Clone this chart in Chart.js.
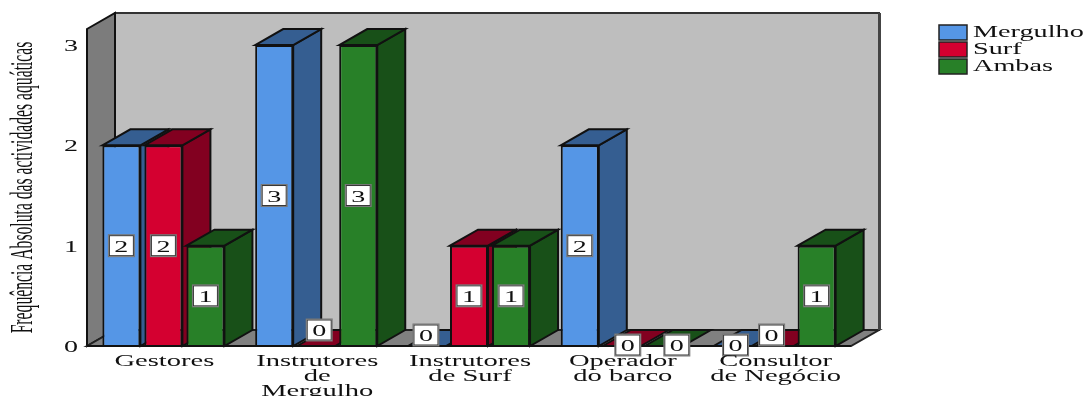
<!DOCTYPE html>
<html>
<head>
<meta charset="utf-8">
<script src="https://cdn.jsdelivr.net/npm/chart.js@4/dist/chart.umd.min.js"></script>
<style>
html, body { margin: 0; background: #fff; overflow: hidden; }
canvas { display: block; filter: blur(0.5px); }
</style>
</head>
<body>
<canvas id="myChart" width="1083" height="396"></canvas>
<script>
var categories = [['Gestores'], ['Instrutores', 'de', 'Mergulho'], ['Instrutores', 'de Surf'], ['Operador', 'do barco'], ['Consultor', 'de Negócio']];
var mergulho = [2, 3, 0, 2, 0];
var surf = [2, 0, 1, 0, 0];
var ambas = [1, 3, 1, 0, 1];
var yTicks = [0, 1, 2, 3];
var yTitle = 'Frequência Absoluta das actividades aquáticas';

var DEPTH_X = 28, DEPTH_Y = 16;
var SERIF = '"Liberation Serif", serif';
var sideColors = ['#355e91', '#820020', '#185018'];
// the zero labels get pushed around the other marks in the original
var zeroNudge = { '1,1': [3, -16], '0,2': [-1, -11], '1,3': [6, -1], '2,3': [13, -1], '0,4': [3, -1], '1,4': [-3, -11] };

function stretchedText(ctx, text, x, y, size, sx, align) {
    ctx.save();
    ctx.translate(x, y);
    ctx.scale(sx, 1);
    ctx.font = size + 'px ' + SERIF;
    ctx.fillStyle = '#111';
    ctx.textAlign = align || 'center';
    ctx.textBaseline = 'alphabetic';
    ctx.fillText(text, 0, 0);
    ctx.restore();
}

function poly(ctx, pts, fill, stroke, lw) {
    ctx.beginPath();
    pts.forEach(function (p, i) {
        if (i === 0) ctx.moveTo(p[0], p[1]); else ctx.lineTo(p[0], p[1]);
    });
    ctx.closePath();
    ctx.fillStyle = fill;
    ctx.fill();
    if (stroke) {
        ctx.strokeStyle = stroke;
        ctx.lineWidth = lw || 2;
        ctx.stroke();
    }
}

function drawWalls(ctx, a) {
    var l = a.left, r = a.right, t = a.top, b = a.bottom;
    poly(ctx, [[l + DEPTH_X, t - DEPTH_Y], [r + DEPTH_X, t - DEPTH_Y], [r + DEPTH_X, b - DEPTH_Y], [l + DEPTH_X, b - DEPTH_Y]], '#bebebe', '#333', 2);
    poly(ctx, [[l, t], [l + DEPTH_X, t - DEPTH_Y], [l + DEPTH_X, b - DEPTH_Y], [l, b]], '#7c7c7c', '#111', 2);
    poly(ctx, [[l, b], [l + DEPTH_X, b - DEPTH_Y], [r + DEPTH_X, b - DEPTH_Y], [r, b]], '#808080', '#222', 2);
    ctx.strokeStyle = '#444';
    ctx.lineWidth = 3;
    ctx.beginPath();
    ctx.moveTo(r + DEPTH_X + 0.5, t - DEPTH_Y);
    ctx.lineTo(r + DEPTH_X + 0.5, b - DEPTH_Y);
    ctx.stroke();
}

function drawBar3d(ctx, el, side) {
    var p = el.getProps(['x', 'y', 'base', 'width'], true);
    var x0 = p.x - p.width / 2, x1 = p.x + p.width / 2;
    if (p.base > p.y) {
        poly(ctx, [[x1, p.y], [x1 + DEPTH_X, p.y - DEPTH_Y], [x1 + DEPTH_X, p.base - DEPTH_Y], [x1, p.base]], side, '#111');
    }
    poly(ctx, [[x0, p.y], [x0 + DEPTH_X, p.y - DEPTH_Y], [x1 + DEPTH_X, p.y - DEPTH_Y], [x1, p.y]], side, '#111');
    el.draw(ctx);
}

function drawValueBox(ctx, text, cx, cy) {
    var w = 25, h = 21;
    ctx.fillStyle = '#777';
    ctx.fillRect(cx - w / 2 - 1, cy - h / 2 - 1, w + 2, h + 2);
    ctx.fillStyle = '#fff';
    ctx.fillRect(cx - w / 2, cy - h / 2, w, h);
    ctx.strokeStyle = '#333';
    ctx.lineWidth = 1;
    ctx.strokeRect(cx - w / 2 + 0.5, cy - h / 2 + 0.5, w - 1, h - 1);
    stretchedText(ctx, text, cx, cy + 6, 17, 1.65);
}

var scene3d = {
    id: 'scene3d',
    beforeDatasetsDraw: function (chart) {
        var ctx = chart.ctx;
        drawWalls(ctx, chart.chartArea);
        chart.data.datasets.forEach(function (ds, i) {
            chart.getDatasetMeta(i).data.forEach(function (el) {
                drawBar3d(ctx, el, sideColors[i]);
            });
        });
        ctx.strokeStyle = '#111';
        ctx.lineWidth = 2;
        ctx.beginPath();
        ctx.moveTo(chart.chartArea.left, chart.chartArea.bottom);
        ctx.lineTo(chart.chartArea.right, chart.chartArea.bottom);
        ctx.stroke();
        chart.data.datasets.forEach(function (ds, i) {
            chart.getDatasetMeta(i).data.forEach(function (el, j) {
                var n = zeroNudge[i + ',' + j] || [0, 0];
                var cy = (el.y + el.base) / 2;
                drawValueBox(ctx, String(ds.data[j]), el.x + n[0], cy + n[1]);
            });
        });
        return false;
    },
    afterDraw: function (chart) {
        var ctx = chart.ctx, xs = chart.scales.x, ys = chart.scales.y;
        yTicks.forEach(function (v) {
            stretchedText(ctx, String(v), 71, ys.getPixelForValue(v) + 6, 17, 1.65);
        });
        categories.forEach(function (lines, i) {
            lines.forEach(function (line, k) {
                stretchedText(ctx, line, xs.getPixelForTick(i) + 1, 366 + k * 15, 17, 1.68);
            });
        });
        ctx.save();
        ctx.translate(32, 187.5);
        ctx.rotate(-Math.PI / 2);
        stretchedText(ctx, yTitle, 0, 0, 32, 0.49);
        ctx.restore();
        chart.data.datasets.forEach(function (ds, i) {
            var y = 25 + i * 17;
            ctx.fillStyle = ds.backgroundColor;
            ctx.fillRect(939, y, 28, 15);
            ctx.strokeStyle = '#222';
            ctx.lineWidth = 1.5;
            ctx.strokeRect(939, y, 28, 15);
            stretchedText(ctx, ds.label, 973, y + 12, 17, 1.66, 'left');
        });
    }
};

var myChart = new Chart(document.getElementById('myChart'), {
    type: 'bar',
    data: {
        labels: categories,
        datasets: [
            { label: 'Mergulho', data: mergulho, backgroundColor: '#5596e6' },
            { label: 'Surf', data: surf, backgroundColor: '#d40030' },
            { label: 'Ambas', data: ambas, backgroundColor: '#288028' }
        ]
    },
    plugins: [scene3d],
    options: {
        responsive: false,
        animation: false,
        layout: { padding: { left: 87, right: 232, top: 29, bottom: 50 } },
        datasets: { bar: { categoryPercentage: 0.825, barPercentage: 0.905, borderColor: '#111', borderWidth: 2 } },
        plugins: { legend: { display: false }, tooltip: { enabled: false } },
        scales: {
            x: { display: false, grid: { display: false } },
            y: { display: false, min: 0, max: 3.16, grid: { display: false } }
        }
    }
});
</script>
</body>
</html>
